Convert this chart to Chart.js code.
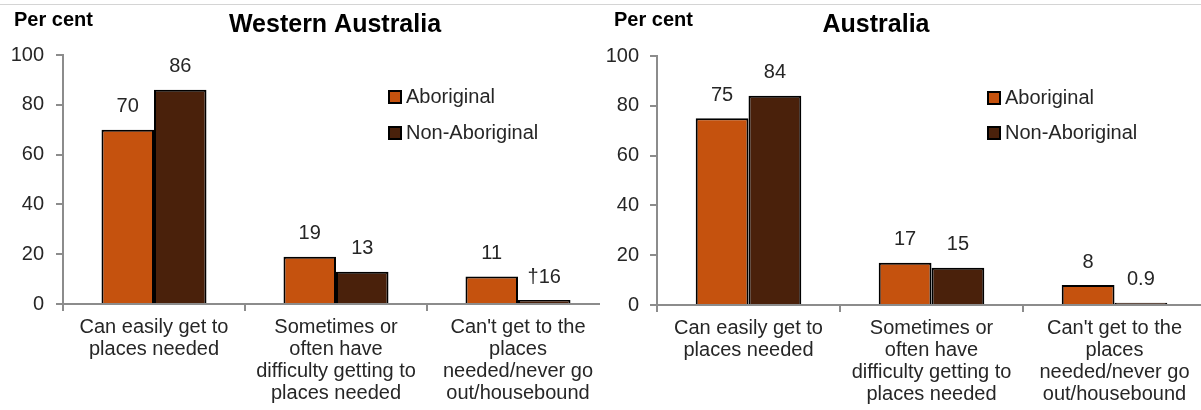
<!DOCTYPE html>
<html><head><meta charset="utf-8">
<script src="https://cdn.jsdelivr.net/npm/chart.js@4/dist/chart.umd.min.js"></script>
<style>
html,body{margin:0;padding:0;background:#fff;width:1201px;height:410px;overflow:hidden;}
#topline{position:absolute;left:0;top:4px;width:1201px;height:1px;background:#d4d4d4;}
.wrap{position:absolute;top:0;height:410px;overflow:hidden;}
#w1{left:0;width:600px;}
#w2{left:600px;width:601px;}
canvas{display:block;}
</style></head><body>
<div id="topline"></div>
<div class="wrap" id="w1"><canvas id="c1" width="620" height="410" style="width:620px;height:410px"></canvas></div>
<div class="wrap" id="w2"><canvas id="c2" width="620" height="410" style="width:620px;height:410px"></canvas></div>
<script>
const categories = [
  ["Can easily get to", "places needed"],
  ["Sometimes or", "often have", "difficulty getting to", "places needed"],
  ["Can't get to the", "places", "needed/never go", "out/housebound"]
];
const seriesNames = ["Aboriginal", "Non-Aboriginal"];
const waAboriginal = [70, 19, 11];
const waNonAboriginal = [86, 13, 1.6];
const waAboriginalLabels = ["70", "19", "11"];
const waNonAboriginalLabels = ["86", "13", "\u202016"];
const ausAboriginal = [75, 17, 8];
const ausNonAboriginal = [84, 15, 0.9];
const ausAboriginalLabels = ["75", "17", "8"];
const ausNonAboriginalLabels = ["84", "15", "0.9"];
const yTicks = [0, 20, 40, 60, 80, 100];

const FONT = "'Liberation Sans', Arial, sans-serif";
const TXT = '#262626';
const AXIS = '#8c8c8c';
const COLORS = ['#C5520E', '#4A210B'];

const overlay = {
  id: 'overlay',
  afterDatasetsDraw(chart, args, o) {
    const ctx = chart.ctx;
    ctx.save();
    ctx.font = '20px ' + FONT;
    ctx.fillStyle = TXT;
    ctx.textAlign = 'center';
    ctx.textBaseline = 'middle';
    chart.data.datasets.forEach((ds, i) => {
      const meta = chart.getDatasetMeta(i);
      meta.data.forEach((el, j) => {
        ctx.fillText(ds.valueLabels[j], el.x, el.y - 23);
      });
    });
    ctx.fillStyle = '#000';
    ctx.font = 'bold 20px ' + FONT;
    ctx.textAlign = 'left';
    ctx.fillText('Per cent', o.perX, 20);
    ctx.font = 'bold 25px ' + FONT;
    ctx.textAlign = 'center';
    ctx.fillText(o.title, o.titleX, 25);
    ctx.font = '20px ' + FONT;
    ctx.textAlign = 'left';
    chart.data.datasets.forEach((ds, i) => {
      const y = o.legY[i];
      ctx.fillStyle = ds.backgroundColor;
      ctx.fillRect(o.legX, y - 6, 12, 12);
      ctx.strokeStyle = '#000';
      ctx.lineWidth = 2;
      ctx.strokeRect(o.legX, y - 6, 12, 12);
      ctx.fillStyle = TXT;
      ctx.fillText(ds.label, o.legX + 17, y);
    });
    ctx.restore();
  }
};

function makeChart(id, a, b, al, bl, o) {
  new Chart(document.getElementById(id), {
    type: 'bar',
    data: {
      labels: categories,
      datasets: [
        { label: seriesNames[0], data: a, valueLabels: al, backgroundColor: COLORS[0], borderColor: '#000', borderWidth: 2 },
        { label: seriesNames[1], data: b, valueLabels: bl, backgroundColor: COLORS[1], borderColor: '#000', borderWidth: 2 }
      ]
    },
    options: {
      responsive: false,
      animation: false,
      layout: { padding: { left: 0, right: o.padRight, top: o.top, bottom: 0 } },
      datasets: { bar: { barPercentage: 1.0, categoryPercentage: 0.577 } },
      plugins: { legend: { display: false }, tooltip: { enabled: false }, overlay: o },
      scales: {
        x: {
          grid: { offset: true, drawOnChartArea: false, tickLength: 7, color: AXIS, lineWidth: 2 },
          border: { color: AXIS, width: 2 },
          ticks: { font: { family: FONT, size: 20, lineHeight: 1.1 }, color: TXT, padding: 5, maxRotation: 0, minRotation: 0, autoSkip: false },
          afterFit: s => { s.height = 410 - o.bottom; }
        },
        y: {
          min: 0, max: 100,
          afterBuildTicks: s => { s.ticks = yTicks.map(v => ({ value: v })); },
          grid: { drawOnChartArea: false, tickLength: 7, color: AXIS, lineWidth: 2 },
          border: { color: AXIS, width: 2 },
          ticks: { font: { family: FONT, size: 20 }, color: TXT, padding: o.yPad },
          afterFit: s => { s.width = o.left; }
        }
      }
    },
    plugins: [overlay]
  });
}

makeChart('c1', waAboriginal, waNonAboriginal, waAboriginalLabels, waNonAboriginalLabels,
  { left: 63, padRight: 11, top: 55, bottom: 304, yPad: 12, title: 'Western Australia', titleX: 335, perX: 14, legX: 389, legY: [97, 133] });
makeChart('c2', ausAboriginal, ausNonAboriginal, ausAboriginalLabels, ausNonAboriginalLabels,
  { left: 57, padRight: 14, top: 56, bottom: 305, yPad: 11, title: 'Australia', titleX: 276, perX: 14, legX: 388, legY: [98, 133] });
</script>
</body></html>
